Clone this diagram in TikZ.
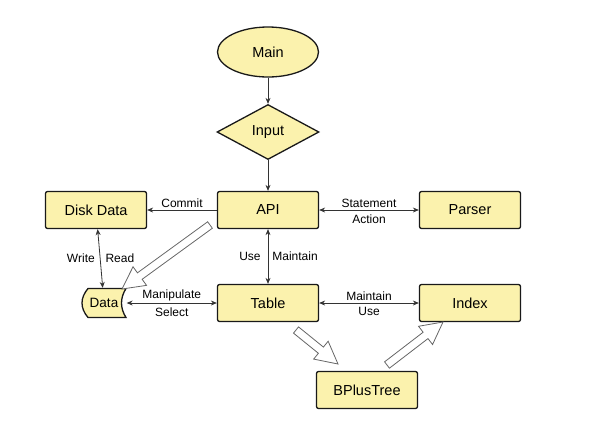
\documentclass[tikz,border=0pt]{standalone}
\usepackage{fontspec}
\setmainfont{Liberation Sans}
\usetikzlibrary{arrows.meta,shapes.geometric,calc}
\definecolor{boxfill}{HTML}{FBF2AD}
\definecolor{edgegray}{HTML}{333333}
\newcommand{\fatarrow}[2]{%
	\coordinate (hb) at ($(#2)!22pt!(#1)$);
	\draw[hollow] ($(#1)!4pt!90:(#2)$) -- ($(hb)!4pt!-90:(#1)$) -- ($(hb)!11.5pt!-90:(#1)$) -- (#2) -- ($(hb)!11.5pt!90:(#1)$) -- ($(hb)!4pt!90:(#1)$) -- ($(#1)!4pt!-90:(#2)$) -- cycle;}

\begin{document}
\begin{tikzpicture}[x=1pt, y=-1pt,
	box/.style={draw=black!90, line width=1.3pt, fill=boxfill, rounded corners=2pt, minimum width=101pt, minimum height=37pt, font=\fontsize{14.5}{17}\selectfont},
	lbl/.style={font=\fontsize{12}{14}\selectfont, inner sep=2pt},
	link/.style={draw=edgegray, line width=0.8pt, >={Stealth[length=6pt,width=5pt]}},
	hollow/.style={draw=black!60, line width=0.8pt, fill=white, line join=miter}]
	\useasboundingbox (0,0) rectangle (601,424);
	\node[box, ellipse, sharp corners, minimum width=101pt, minimum height=50pt] (main) at (268,52) {Main};
	\node[box, diamond, sharp corners, aspect=1.85, inner sep=1pt, minimum width=102pt, minimum height=55pt] (input) at (268,132) {Input};
	\node[box] (api) at (268,210) {API};
	\node[box] (disk) at (96,210) {Disk Data};
	\node[box] (parser) at (470,210) {Parser};
	\node[box] (table) at (268,303) {Table};
	\node[box] (index) at (470,303) {Index};
	\node[box] (bplus) at (367,390) {BPlusTree};
	% data store shape
	\draw[draw=black!90, line width=1.3pt, fill=boxfill] (88,288.5) -- (126,288.5) .. controls (120,298) and (120,308) .. (126,317.5) -- (88,317.5) .. controls (80,308) and (80,298) .. (88,288.5) -- cycle;
	\node[box, draw=none, fill=none, minimum width=44pt, minimum height=29pt, font=\fontsize{13.5}{16}\selectfont] (data) at (104,303) {Data};
	\draw[link, ->] (main) -- (input);
	\draw[link, ->] (input) -- (api);
	\draw[link, ->] (api) -- node[lbl, above] {Commit} (disk);
	\draw[link, <->] (api) -- node[lbl, above] {Statement} node[lbl, below=2pt] {Action} (parser);
	\draw[link, <->] (api) -- node[lbl, left=5pt] {Use} node[lbl, right=2pt] {Maintain} (table);
	\draw[link, <->] (table) -- node[lbl, above] {Maintain} node[lbl, below=2pt] {Use} (index);
	\draw[link, <->] (data) -- node[lbl, above] {Manipulate} node[lbl, below=2pt] {Select} (table);
	\draw[link, <->] (disk) -- node[lbl, left=3pt] {Write} node[lbl, right=3pt] {Read} (data);
	% hollow arrows
	\coordinate (f1) at (210,225);
	\coordinate (f2) at (122,289);
	\coordinate (f3) at (296,330);
	\coordinate (f4) at (338,364);
	\coordinate (f5) at (387,365);
	\coordinate (f6) at (443,322);
	\fatarrow{f1}{f2}
	\fatarrow{f3}{f4}
	\fatarrow{f5}{f6}
\end{tikzpicture}
\end{document}
